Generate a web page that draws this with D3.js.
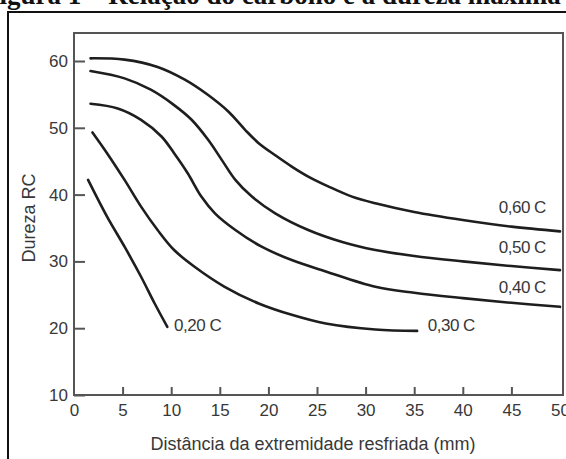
<!DOCTYPE html>
<html>
<head>
<meta charset="utf-8">
<script src="https://cdn.jsdelivr.net/npm/d3@7"></script>
<style>
  body { margin: 0; background: #fff; }
  svg { display: block; }
  .tick text { font-family: "Liberation Sans", Arial, sans-serif; fill: #383838; }
</style>
</head>
<body>
<div id="chart"></div>
<script>
// Jominy curves: hardness (RC) vs distance from quenched end (mm)
const xTicks = [0, 5, 10, 15, 20, 25, 30, 35, 40, 45, 50];
const yTicks = [10, 20, 30, 40, 50, 60];

const c060 = [[1.7, 60.4], [5.2, 60.2], [8.6, 59.1], [11.4, 57.2], [13.8, 54.9], [15.9, 52.4],
  [17.6, 49.7], [19.0, 47.7], [20.7, 45.9], [22.4, 44.2], [24.1, 42.7], [26.2, 41.2],
  [28.6, 39.7], [31.0, 38.7], [35, 37.4], [40, 36.2], [45, 35.2], [50, 34.5]];
const c050 = [[1.7, 58.5], [5.2, 57.4], [7.9, 55.7], [10.3, 53.4], [12.1, 51.2], [13.8, 48.2],
  [15.2, 45.2], [16.6, 42.2], [18.3, 39.7], [20.7, 37.2], [24.1, 34.7], [27.6, 32.9],
  [31.0, 31.7], [35, 30.8], [40, 30.0], [45, 29.3], [50, 28.7]];
const c040 = [[1.7, 53.6], [4.5, 52.9], [6.9, 51.2], [9.0, 48.7], [10.3, 46.2], [11.7, 43.2],
  [13.1, 39.7], [14.5, 37.2], [16.6, 34.7], [19.3, 32.2], [22.4, 30.2], [25.9, 28.5],
  [31.0, 26.2], [35, 25.3], [40, 24.5], [45, 23.8], [50, 23.2]];
const c030 = [[1.9, 49.3], [3.4, 46.2], [5.2, 42.2], [6.9, 38.2], [8.6, 34.7], [10.3, 31.7],
  [12.4, 29.2], [15.5, 26.2], [19.0, 23.7], [22.4, 22.0], [25.9, 20.7], [31.0, 19.8], [35.3, 19.6]];
const c020 = [[1.45, 42.2], [3.4, 36.7], [5.2, 32.2], [6.9, 27.7], [8.3, 23.7], [9.6, 20.2]];

const curves = [c060, c050, c040, c030, c020];
const labels = ["0,60 C", "0,50 C", "0,40 C", "0,30 C", "0,20 C"];
const labelPos = [[43.7, 37.3], [43.7, 31.3], [43.7, 25.3], [36.4, 19.6], [10.3, 19.6]];

const W = 566, H = 459;
const svg = d3.select("#chart").append("svg").attr("width", W).attr("height", H);

// caption of the page, cut by the top edge as in the scan
svg.append("text")
  .attr("x", -17).attr("y", 4)
  .style("font-family", "'Liberation Serif', 'Times New Roman', serif")
  .style("font-weight", "bold").style("font-size", "27px").attr("fill", "#111")
  .text("Figura 1 – Relação do carbono e a dureza máxima");

// outer box
svg.append("rect")
  .attr("x", 8).attr("y", 12).attr("width", 580).attr("height", 480)
  .attr("fill", "none").attr("stroke", "#111").attr("stroke-width", 2);

const x = d3.scaleLinear().domain([0, 50]).range([74, 560]);
const y = d3.scaleLinear().domain([10, 60]).range([395, 61]);

// plot frame
svg.append("rect")
  .attr("x", 74).attr("y", 33).attr("width", 563 - 74).attr("height", 395 - 33)
  .attr("fill", "none").attr("stroke", "#555").attr("stroke-width", 2);

const yAxis = svg.append("g").attr("transform", "translate(74,0)")
  .call(d3.axisLeft(y).tickValues(yTicks).tickSize(-11).tickPadding(6));
yAxis.select(".domain").remove();
yAxis.selectAll("line").attr("stroke", "#555").attr("stroke-width", 2);
yAxis.selectAll("text").style("font-size", "17px");

const xAxis = svg.append("g").attr("transform", "translate(0,395)")
  .call(d3.axisBottom(x).tickValues(xTicks).tickSize(-8).tickPadding(9));
xAxis.select(".domain").remove();
xAxis.selectAll("line").attr("stroke", "#555").attr("stroke-width", 2)
  .style("opacity", (d, i) => (i === 0 || i === xTicks.length - 1) ? 0 : 1);
xAxis.selectAll("text").style("font-size", "17px");

// axis titles
svg.append("text")
  .attr("transform", "translate(35,218) rotate(-90)")
  .attr("text-anchor", "middle")
  .style("font-family", "'Liberation Sans', Arial, sans-serif")
  .style("font-size", "18px").attr("fill", "#383838")
  .text("Dureza RC");

svg.append("text")
  .attr("x", 313).attr("y", 450)
  .attr("text-anchor", "middle")
  .style("font-family", "'Liberation Sans', Arial, sans-serif")
  .style("font-size", "18px").attr("fill", "#383838")
  .text("Distância da extremidade resfriada (mm)");

const line = d3.line()
  .x(d => x(d[0]))
  .y(d => y(d[1]))
  .curve(d3.curveCatmullRom.alpha(0.5));

svg.selectAll(".curve")
  .data(curves)
  .enter()
  .append("path")
  .attr("class", "curve")
  .attr("fill", "none")
  .attr("stroke", "#1e1e1e")
  .attr("stroke-width", 2.6)
  .attr("stroke-linecap", "round")
  .attr("d", line);

svg.selectAll(".clabel")
  .data(labels)
  .enter()
  .append("text")
  .attr("class", "clabel")
  .attr("x", (d, i) => x(labelPos[i][0]))
  .attr("y", (d, i) => y(labelPos[i][1]))
  .style("font-family", "'Liberation Sans', Arial, sans-serif")
  .style("font-size", "17px")
  .style("letter-spacing", "-0.5px")
  .attr("fill", "#383838")
  .text(d => d);
</script>
</body>
</html>
